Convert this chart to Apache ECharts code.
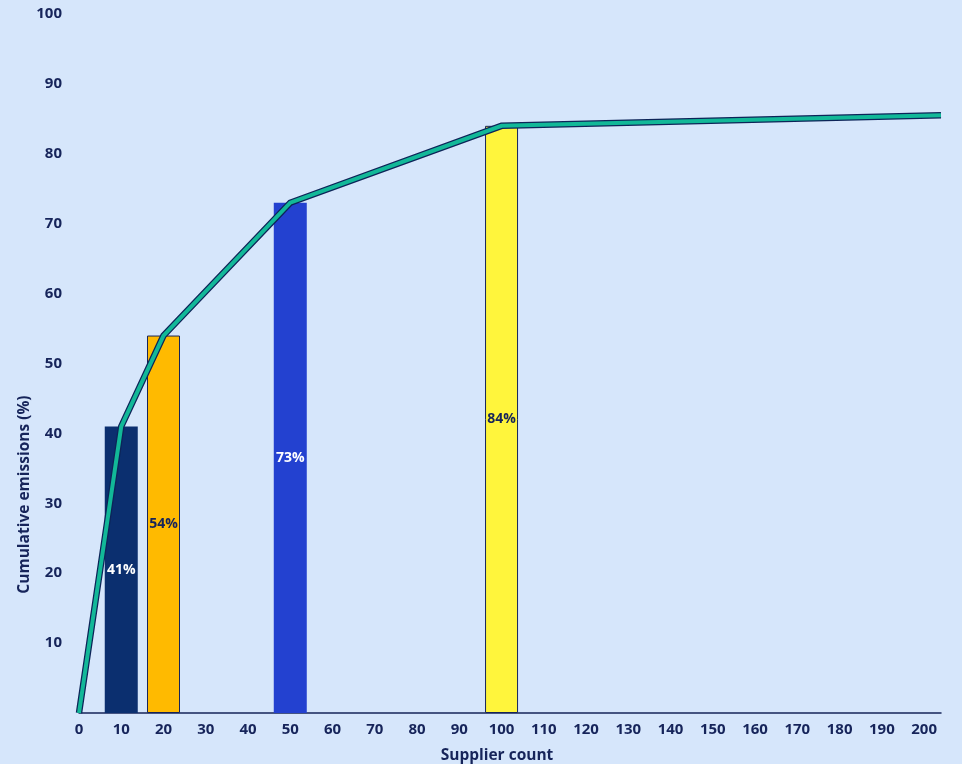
<!DOCTYPE html>
<html>
<head>
<meta charset="utf-8">
<script src="https://cdn.jsdelivr.net/npm/echarts@6/dist/echarts.min.js"></script>
<style>
  html, body { margin: 0; padding: 0; background: #d6e6fb; }
  #chart { width: 962px; height: 764px; }
</style>
</head>
<body>
<div id="chart"></div>
<script>
// Supplier tiers and their cumulative share of emissions
const barSuppliers = [10, 20, 50, 100];
const barShares = [41, 54, 73, 84];
const barColors = ['#0b2f6f', '#ffba00', '#2341d0', '#fff53c'];
const barLabelColors = ['#ffffff', '#16245a', '#ffffff', '#16245a'];
const barBorders = [0, 1, 0, 1];

// Cumulative curve across all suppliers
const curveSuppliers = [0, 10, 20, 50, 100, 204];
const curveShares = [0, 41, 54, 73, 84, 85.5];

const ink = '#16245a';
const font = '"Open Sans", "Noto Sans", sans-serif';

const barData = barSuppliers.map((x, i) => ({
  value: [x, barShares[i]],
  itemStyle: {
    color: barColors[i],
    borderColor: ink,
    borderWidth: barBorders[i]
  },
  label: { color: barLabelColors[i] }
}));
const curveData = curveSuppliers.map((x, i) => [x, curveShares[i]]);

const chart = echarts.init(document.getElementById('chart'), null, { renderer: 'canvas' });
chart.setOption({
  backgroundColor: '#d6e6fb',
  animation: false,
  grid: { left: 79, right: 21, top: 14, bottom: 51, containLabel: false, outerBoundsMode: 'none' },
  xAxis: {
    type: 'value',
    min: 0,
    max: 204,
    interval: 10,
    name: 'Supplier count',
    nameLocation: 'middle',
    nameGap: 35,
    nameMoveOverlap: false,
    nameTextStyle: { color: ink, fontFamily: font, fontWeight: 'bold', fontSize: 15.5, padding: [0, 26, 0, 0] },
    axisLine: { show: true, lineStyle: { color: ink, width: 1.5 } },
    axisTick: { show: false },
    splitLine: { show: false },
    axisLabel: {
      color: ink, fontFamily: font, fontWeight: 'bold', fontSize: 15, margin: 9,
      showMaxLabel: false
    }
  },
  yAxis: {
    type: 'value',
    min: 0,
    max: 100,
    interval: 10,
    name: 'Cumulative emissions (%)',
    nameLocation: 'middle',
    nameGap: 46,
    nameMoveOverlap: false,
    nameTextStyle: { color: ink, fontFamily: font, fontWeight: 'bold', fontSize: 15.5, padding: [0, 262, 0, 0] },
    axisLine: { show: false },
    axisTick: { show: false },
    splitLine: { show: false },
    axisLabel: {
      color: ink, fontFamily: font, fontWeight: 'bold', fontSize: 15, margin: 17,
      formatter: v => (v === 0 ? '' : String(v))
    }
  },
  series: [
    {
      type: 'bar',
      data: barData,
      barWidth: 33,
      label: {
        show: true,
        position: 'inside',
        formatter: p => p.value[1] + '%',
        fontFamily: font,
        fontWeight: 'bold',
        fontSize: 14
      },
      z: 2
    },
    {
      // dark outline beneath the curve
      type: 'line',
      data: curveData,
      symbol: 'none',
      silent: true,
      lineStyle: { color: '#0d2458', width: 6.5, cap: 'butt', join: 'miter' },
      z: 3
    },
    {
      type: 'line',
      data: curveData,
      symbol: 'none',
      lineStyle: { color: '#12b898', width: 4, cap: 'butt', join: 'miter' },
      z: 4
    }
  ]
});
</script>
</body>
</html>
